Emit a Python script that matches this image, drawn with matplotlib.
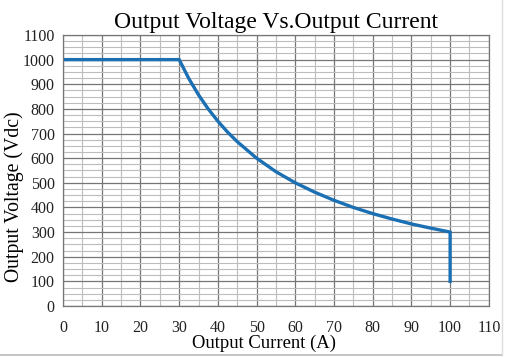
import matplotlib.pyplot as plt
from matplotlib.ticker import MultipleLocator

plt.rcParams['font.family'] = ['Liberation Serif', 'DejaVu Serif']

# Output characteristic
current = [0, 30, 32.5, 35, 37.5, 40, 42.5, 45, 50, 55, 60, 65, 70, 75, 80, 85, 90, 95, 100, 100]
voltage = [1000, 1000, 923, 857, 800, 750, 706, 667, 600, 545, 500, 462, 429, 400, 375, 353, 333, 316, 300, 100]

x_ticks = list(range(0, 111, 10))
y_ticks = list(range(0, 1101, 100))

fig = plt.figure(figsize=(5.05, 3.57), dpi=100)
ax = fig.add_axes([0.1248, 0.1429, 0.8432, 0.7591])

ax.set_xlim(0, 110)
ax.set_ylim(0, 1100)
ax.set_xticks(x_ticks)
ax.set_yticks(y_ticks)
ax.xaxis.set_minor_locator(MultipleLocator(5))
ax.yaxis.set_minor_locator(MultipleLocator(25))

ax.grid(which="major", color="#767676", linewidth=0.9)
ax.grid(which="minor", color="#bdbdbd", linewidth=0.8)
ax.set_axisbelow(True)
ax.tick_params(which="both", length=0, labelsize=11.5, colors="#222222")
ax.tick_params(axis="x", pad=10)
ax.tick_params(axis="y", pad=6)
for s in ax.spines.values():
    s.set_color("#767676")
    s.set_linewidth(0.9)

ax.plot(current, voltage, color="#1b6fb3", linewidth=2.4, solid_joinstyle="miter")

ax.set_title("Output Voltage Vs.Output Current", fontsize=17, pad=5)
ax.set_xlabel("Output Current (A)", fontsize=13.4)
ax.set_ylabel("Output Voltage (Vdc)", fontsize=14.2)
ax.xaxis.set_label_coords(0.472, -0.106)
ax.yaxis.set_label_coords(-0.092, 0.405)

# light frame along the right and bottom edges of the picture
fig.add_artist(plt.Line2D([0, 0.995], [0.006, 0.006], color="#bbbbbb", linewidth=1.2))
fig.add_artist(plt.Line2D([0.995, 0.995], [0.006, 1], color="#dddddd", linewidth=1.0))

fig.savefig("out.png", dpi=100)
